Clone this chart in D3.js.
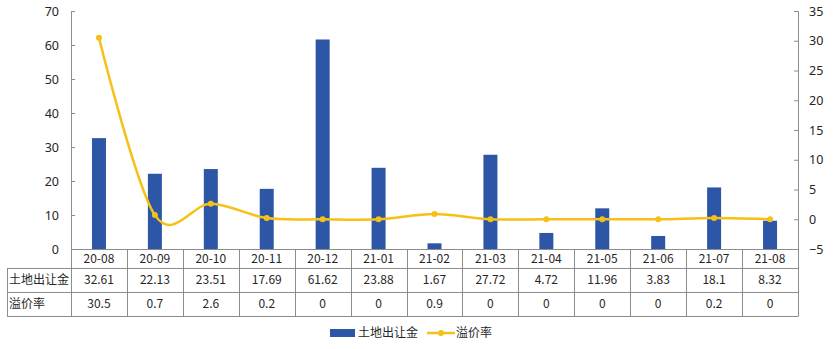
<!DOCTYPE html>
<html>
<head>
<meta charset="utf-8">
<script src="https://cdn.jsdelivr.net/npm/d3@7"></script>
<style>
  html, body { margin: 0; padding: 0; background: #fff; }
  svg { display: block; font-family: "Noto Sans CJK SC", "Noto Sans", sans-serif; }
</style>
</head>
<body>
<svg id="chart" width="837" height="349"></svg>
<script>
// 月份
const months = ["20-08","20-09","20-10","20-11","20-12","21-01","21-02","21-03","21-04","21-05","21-06","21-07","21-08"];
// 土地出让金
const landRevenue = [32.61, 22.13, 23.51, 17.69, 61.62, 23.88, 1.67, 27.72, 4.72, 11.96, 3.83, 18.1, 8.32];
// 溢价率
const premiumRate = [30.5, 0.7, 2.6, 0.2, 0, 0, 0.9, 0, 0, 0, 0, 0.2, 0];
const leftTicks = [0, 10, 20, 30, 40, 50, 60, 70];
const rightTicks = [-5, 0, 5, 10, 15, 20, 25, 30, 35];
const seriesNames = ["土地出让金", "溢价率"];

const barColor = "#2E56A6";
const lineColor = "#F5C116";
const gridColor = "#8C8C8C";
const textColor = "#262626";

const svg = d3.select("#chart");
const plot = { left: 71, right: 798, top: 11, bottom: 249 };
const tableLeft = 7;
const rowH = 24;
const headerBottom = 268;

const x = d3.scaleBand().domain(months).range([plot.left, plot.right]).paddingInner(0).paddingOuter(0);
const yL = d3.scaleLinear().domain([0, 70]).range([plot.bottom, plot.top]);
const yR = d3.scaleLinear().domain([-5, 35]).range([plot.bottom, plot.top]);

// bars
svg.append("g").selectAll("rect").data(months).join("rect")
  .attr("x", d => x(d) + x.bandwidth() / 2 - 7)
  .attr("width", 14)
  .attr("y", (d, i) => yL(landRevenue[i]))
  .attr("height", (d, i) => yL(0) - yL(landRevenue[i]))
  .attr("fill", barColor);

// left axis
const leftAxis = svg.append("g").attr("transform", `translate(${plot.left},0)`)
  .call(d3.axisLeft(yL).tickValues(leftTicks).tickSize(-4).tickPadding(12).tickFormat(d3.format("d")));
leftAxis.select(".domain").attr("stroke", gridColor);
leftAxis.selectAll(".tick line").attr("stroke", gridColor);
leftAxis.selectAll("text").attr("fill", textColor).attr("font-size", 12.5).attr("font-family", "'Noto Sans', sans-serif");

// right axis
const rightAxis = svg.append("g").attr("transform", `translate(${plot.right},0)`)
  .call(d3.axisRight(yR).tickValues(rightTicks).tickSize(-4).tickPadding(11).tickFormat(d3.format("d")));
rightAxis.select(".domain").attr("stroke", gridColor);
rightAxis.selectAll(".tick line").attr("stroke", gridColor);
rightAxis.selectAll("text").attr("fill", textColor).attr("font-size", 12.5).attr("font-family", "'Noto Sans', sans-serif");

// line
const pts = months.map((m, i) => [x(m) + x.bandwidth() / 2, yR(premiumRate[i])]);
svg.append("path")
  .attr("d", d3.line().curve(d3.curveCardinal.tension(0))(pts))
  .attr("fill", "none").attr("stroke", lineColor).attr("stroke-width", 2.5);
svg.append("g").selectAll("circle").data(pts).join("circle")
  .attr("cx", d => d[0]).attr("cy", d => d[1]).attr("r", 3).attr("fill", lineColor);

// data table
const table = svg.append("g").attr("stroke", gridColor).attr("stroke-width", 1);
const tableBottom = headerBottom + rowH * 2;
// horizontal lines
table.append("line").attr("x1", plot.left).attr("x2", plot.right).attr("y1", plot.bottom + 0.5).attr("y2", plot.bottom + 0.5);
[headerBottom, headerBottom + rowH, tableBottom].forEach(y =>
  table.append("line").attr("x1", tableLeft).attr("x2", plot.right).attr("y1", y + 0.5).attr("y2", y + 0.5));
// vertical lines
table.append("line").attr("x1", tableLeft + 0.5).attr("x2", tableLeft + 0.5).attr("y1", headerBottom).attr("y2", tableBottom + 0.5);
months.forEach(m => {
  const xx = Math.round(x(m)) + 0.5;
  table.append("line").attr("x1", xx).attr("x2", xx).attr("y1", plot.bottom).attr("y2", tableBottom + 0.5);
});
table.append("line").attr("x1", plot.right + 0.5).attr("x2", plot.right + 0.5).attr("y1", plot.bottom).attr("y2", tableBottom + 0.5);

const txt = svg.append("g").attr("fill", textColor).attr("font-size", 12).attr("text-anchor", "middle");
months.forEach((m, i) => {
  const cx = x(m) + x.bandwidth() / 2;
  txt.append("text").attr("x", cx).attr("y", (plot.bottom + headerBottom) / 2).attr("dy", "0.35em").text(m);
  txt.append("text").attr("x", cx).attr("y", headerBottom + rowH / 2).attr("dy", "0.35em").text(landRevenue[i]);
  txt.append("text").attr("x", cx).attr("y", headerBottom + rowH * 1.5).attr("dy", "0.35em").text(premiumRate[i]);
});
txt.append("text").attr("x", tableLeft + 2).attr("text-anchor", "start").attr("y", headerBottom + rowH / 2).attr("dy", "0.35em").text(seriesNames[0]);
txt.append("text").attr("x", tableLeft + 2).attr("text-anchor", "start").attr("y", headerBottom + rowH * 1.5).attr("dy", "0.35em").text(seriesNames[1]);

// legend
const lg = svg.append("g").attr("font-size", 12).attr("fill", textColor);
const ly = 333;
lg.append("rect").attr("x", 330).attr("y", ly - 4).attr("width", 25).attr("height", 8).attr("fill", barColor);
lg.append("text").attr("x", 358).attr("y", ly).attr("dy", "0.35em").text(seriesNames[0]);
lg.append("line").attr("x1", 427).attr("x2", 455).attr("y1", ly).attr("y2", ly).attr("stroke", lineColor).attr("stroke-width", 2.5);
lg.append("circle").attr("cx", 441).attr("cy", ly).attr("r", 3).attr("fill", lineColor);
lg.append("text").attr("x", 456).attr("y", ly).attr("dy", "0.35em").text(seriesNames[1]);
</script>
</body>
</html>
